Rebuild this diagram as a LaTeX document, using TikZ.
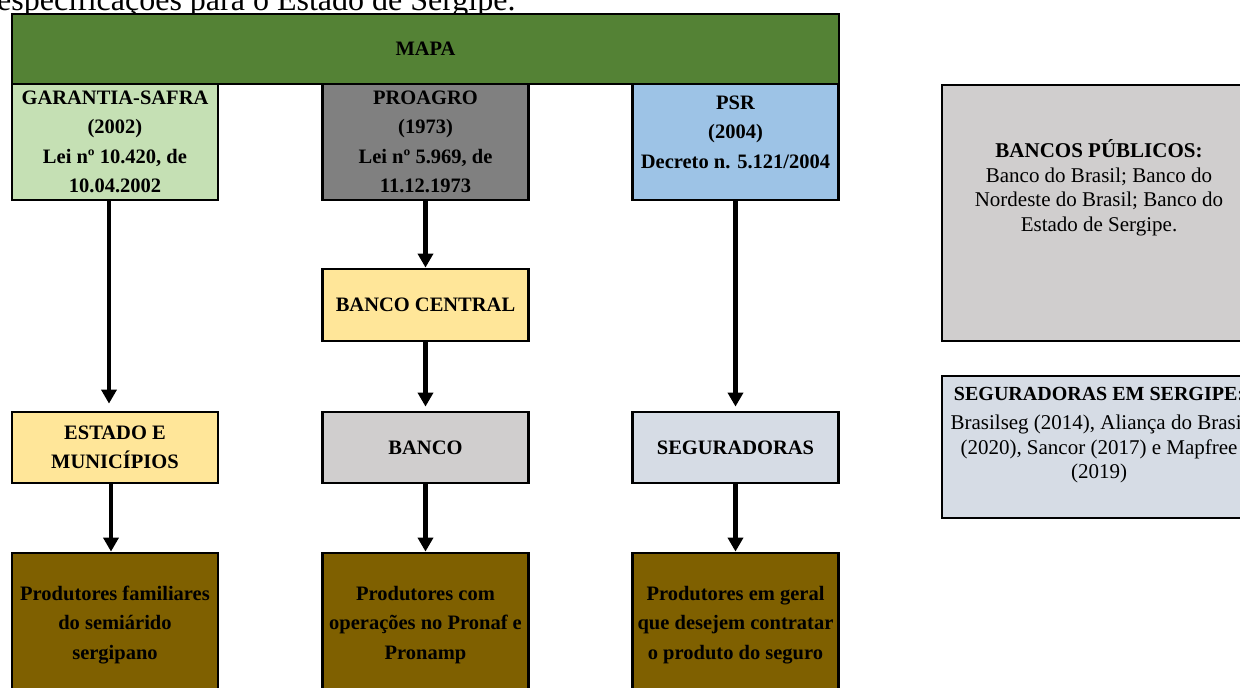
\documentclass[tikz,border=0pt]{standalone}
\usepackage{fontspec}
\setmainfont{Liberation Serif}
\usepackage{tikz}
\usetikzlibrary{positioning}
\usetikzlibrary{arrows.meta}

\definecolor{mapagreen}{HTML}{548235}
\definecolor{safragreen}{HTML}{C5E0B4}
\definecolor{proagrogray}{HTML}{808080}
\definecolor{psrblue}{HTML}{9DC3E6}
\definecolor{lightyellow}{HTML}{FFE699}
\definecolor{bankgray}{HTML}{D0CECE}
\definecolor{segblue}{HTML}{D6DCE5}
\definecolor{prodbrown}{HTML}{7F6000}

\begin{document}
\begin{tikzpicture}[x=1pt,y=-1pt,
        box/.style={draw=black,line width=2.8pt,align=center,inner sep=0pt,
                    minimum width=206pt,font=\bfseries\fontsize{20.5}{29.5}\selectfont},
        flow/.style={line width=4.5pt,-{Triangle[width=15pt,length=14pt]}},
        sidebox/.style={draw=black,line width=2.8pt,inner sep=0pt,minimum width=314pt},
        sidetext/.style={align=center,inner sep=0pt,font=\fontsize{21}{24.5}\selectfont}]
        \useasboundingbox (0,0) rectangle (1240,688);

        % legenda cortada no topo
        \node[anchor=base west,inner sep=0pt,font=\fontsize{32}{36}\selectfont] (legenda) at (-3,10)
            {especificações para o Estado de Sergipe.};

        % orgao central
        \node[box,fill=mapagreen,minimum width=827pt,minimum height=70pt] (mapa) at (425.5,49) {MAPA};

        % programas
        \node[box,fill=safragreen,minimum height=116pt] (safra) at (115,142)
            {GARANTIA-SAFRA\\(2002)\\Lei nº 10.420, de\\10.04.2002};
        \node[box,fill=proagrogray,minimum height=116pt] (proagro) at (425.5,142)
            {PROAGRO\\(1973)\\Lei nº 5.969, de\\11.12.1973};
        \node[box,fill=psrblue,minimum height=116pt] (psr) at (735.5,142)
            {PSR\\(2004)\\Decreto n. 5.121/2004\\[-9.5pt]\mbox{}};

        \node[box,fill=lightyellow,minimum height=72pt] (bcentral) at (425.5,305) {BANCO CENTRAL};

        % operadores
        \node[box,fill=lightyellow,minimum height=71pt] (estado) at (115,447.5) {ESTADO E\\MUNICÍPIOS};
        \node[box,fill=bankgray,minimum height=71pt] (banco) at (425.5,447.5) {BANCO};
        \node[box,fill=segblue,minimum height=71pt] (segur) at (735.5,447.5) {SEGURADORAS};

        % beneficiarios
        \node[box,fill=prodbrown,minimum height=144pt] (prodA) at (115,625)
            {Produtores familiares\\do semiárido\\sergipano};
        \node[box,fill=prodbrown,minimum height=144pt] (prodB) at (425.5,625)
            {Produtores com\\operações no Pronaf e\\Pronamp};
        \node[box,fill=prodbrown,minimum height=144pt] (prodC) at (735.5,625)
            {Produtores em geral\\que desejem contratar\\o produto do seguro};

        % quadros laterais
        \node[sidebox,fill=bankgray,minimum height=256pt] (bpub) at (1099,213) {};
        \node[sidetext] (bpubtxt) at (1099,188)
            {\textbf{BANCOS PÚBLICOS:}\\Banco do Brasil; Banco do\\Nordeste do Brasil; Banco do\\Estado de Sergipe.};
        \node[sidebox,fill=segblue,minimum height=142pt] (segsep) at (1099,447) {};
        \node[sidetext] (segseptxt) at (1099,435)
            {\textbf{\fontsize{20}{24}\selectfont SEGURADORAS EM SERGIPE:}\\[5pt]Brasilseg (2014), Aliança do Brasil\\(2020), Sancor (2017) e Mapfree\\(2019)};

        % setas
        \draw[flow,shorten >=7pt] ([xshift=-6pt]safra.south) -- ([xshift=-6pt]estado.north);
        \draw[flow] ([xshift=-4pt]estado.south) -- ([xshift=-4pt]prodA.north);
        \foreach \a/\b in {proagro/bcentral,banco/prodB,segur/prodC}
        \draw[flow] (\a) -- (\b);
        \foreach \a/\b in {bcentral/banco,psr/segur}
        \draw[flow,shorten >=4pt] (\a) -- (\b);
    \end{tikzpicture}
\end{document}
